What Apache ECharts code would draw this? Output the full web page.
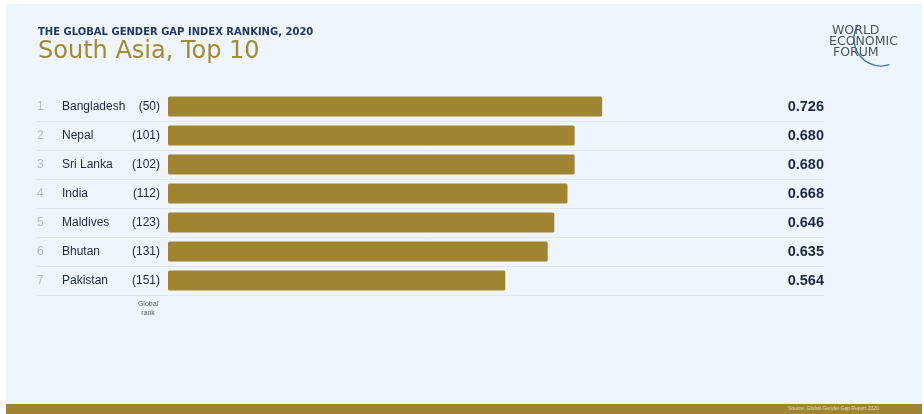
<!DOCTYPE html>
<html>
<head>
<meta charset="utf-8">
<script src="https://cdn.jsdelivr.net/npm/echarts@6/dist/echarts.min.js"></script>
<style>
  html, body { margin: 0; padding: 0; background: #ffffff; }
  #chart { width: 924px; height: 414px; }
</style>
</head>
<body>
<div id="chart"></div>
<script>
const countries = ["Bangladesh", "Nepal", "Sri Lanka", "India", "Maldives", "Bhutan", "Pakistan"];
const globalRanks = [50, 101, 102, 112, 123, 131, 151];
const scores = [0.726, 0.680, 0.680, 0.668, 0.646, 0.635, 0.564];
const rowBoundaries = [0, 1, 2, 3, 4, 5, 6, 7];

const GOLD = '#9f8431';
const NAVY = '#1e2745';
const PANEL = '#eef5fc';
const FONT = '"Liberation Sans", Arial, sans-serif';
const DV = '"DejaVu Sans", sans-serif';

const chart = echarts.init(document.getElementById('chart'), null, { renderer: 'canvas' });

const option = {
  backgroundColor: '#ffffff',
  animation: false,
  textStyle: { fontFamily: FONT },
  graphic: [
    { type: 'rect', z: -10, shape: { x: 6, y: 4, width: 916, height: 400 }, style: { fill: PANEL } },
    { type: 'rect', z: -10, shape: { x: 6, y: 404, width: 916, height: 10 }, style: { fill: GOLD } },
    { type: 'text', x: 788, y: 406.5, style: { text: 'Source: Global Gender Gap Report 2020', fill: '#e6dcb8', font: '5px ' + FONT } },
    { type: 'arc', shape: { cx: 881, cy: 39, r: 27, startAngle: 1.25, endAngle: 3.70, clockwise: true }, style: { stroke: '#3a76c2', lineWidth: 1.3, fill: null } },
    { type: 'text', x: 832, y: 31, style: { text: 'WORLD', fill: '#4d525c', font: '12.5px ' + DV, align: 'left', verticalAlign: 'middle' } },
    { type: 'text', x: 829, y: 41.5, style: { text: 'ECONOMIC', fill: '#4d525c', font: '12.5px ' + DV, align: 'left', verticalAlign: 'middle' } },
    { type: 'text', x: 833, y: 52.5, style: { text: 'FORUM', fill: '#4d525c', font: '12.5px ' + DV, align: 'left', verticalAlign: 'middle' } },
    { type: 'text', x: 148, y: 300, style: { text: 'Global\nrank', fill: '#555d6b', font: '7px ' + FONT, align: 'center', verticalAlign: 'top', lineHeight: 9 } }
  ],
  title: [
    {
      text: 'THE GLOBAL GENDER GAP INDEX RANKING, 2020',
      left: 38, top: 27, padding: 0,
      textStyle: { color: '#26365f', fontSize: 10, fontWeight: 'bold', fontFamily: DV }
    },
    {
      text: 'South Asia, Top 10',
      left: 38, top: 40, padding: 0,
      textStyle: { color: '#a38b35', fontSize: 24, fontWeight: 'normal', fontFamily: DV }
    }
  ],
  grid: [
    { left: 168, right: 158, top: 92, height: 203 },
    { left: 37, right: 100, top: 92, height: 203 }
  ],
  xAxis: [
    { type: 'value', gridIndex: 0, min: 0, max: 1, show: false },
    { type: 'value', gridIndex: 1, min: 0, max: 1, show: false }
  ],
  yAxis: [
    {
      type: 'category', gridIndex: 0, inverse: true, data: countries,
      axisLine: { show: false }, axisTick: { show: false }, splitLine: { show: false },
      axisLabel: {
        margin: 131, align: 'left',
        formatter: (v, i) => '{r|' + (i + 1) + '}{n|' + v + '}{g|(' + globalRanks[i] + ')}',
        rich: {
          r: { width: 25, color: '#b9bec7', fontSize: 12, fontFamily: FONT },
          n: { width: 72, color: NAVY, fontSize: 12, fontFamily: FONT },
          g: { width: 26, align: 'right', color: NAVY, fontSize: 12, fontFamily: FONT }
        }
      }
    },
    {
      type: 'category', gridIndex: 0, inverse: true, position: 'right', data: countries,
      axisLine: { show: false }, axisTick: { show: false }, splitLine: { show: false },
      axisLabel: {
        margin: 58, align: 'right',
        formatter: (v, i) => scores[i].toFixed(3),
        color: NAVY, fontSize: 14.5, fontWeight: 'bold', fontFamily: FONT
      }
    },
    {
      type: 'value', gridIndex: 1, inverse: true, min: rowBoundaries[0], max: rowBoundaries[rowBoundaries.length - 1], interval: 1,
      axisLine: { show: false }, axisTick: { show: false }, axisLabel: { show: false },
      splitLine: { show: true, lineStyle: { width: 1, color: ['rgba(0,0,0,0)', '#dfe6ee', '#dfe6ee', '#dfe6ee', '#dfe6ee', '#dfe6ee', '#dfe6ee', '#dfe6ee'] } }
    }
  ],
  series: [
    {
      type: 'bar', xAxisIndex: 0, yAxisIndex: 0,
      data: scores, barWidth: 20,
      itemStyle: { color: GOLD, borderRadius: 1.5 },
      silent: true
    }
  ]
};
chart.setOption(option);
</script>
</body>
</html>
